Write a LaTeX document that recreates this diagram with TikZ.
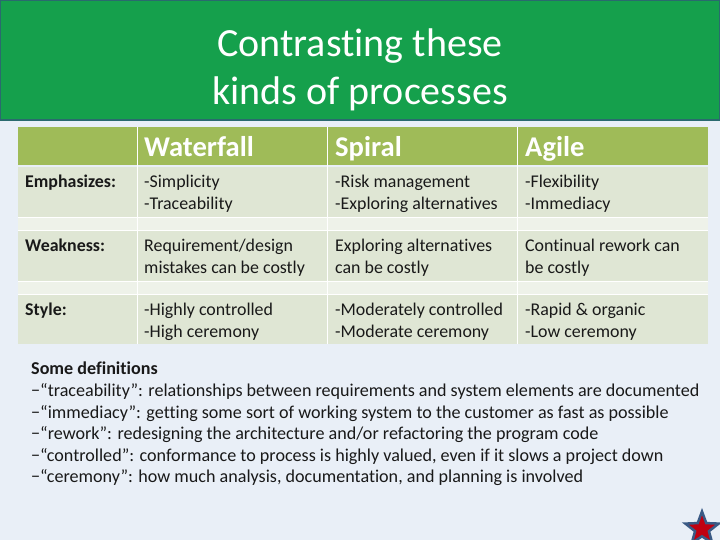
\documentclass[tikz,border=0pt]{standalone}
\usepackage{fontspec}
\setmainfont[RawFeature={-liga}]{Carlito}
\usetikzlibrary{shapes.geometric}
\definecolor{pagebg}{HTML}{E9EFF7}
\definecolor{titlegreen}{HTML}{15A04C}
\definecolor{titleedge}{HTML}{2A6A6E}
\definecolor{headgreen}{HTML}{9FBB58}
\definecolor{rowgreen}{HTML}{DFE6D4}
\definecolor{gapgreen}{HTML}{EEF2E9}
\definecolor{starblue}{HTML}{3A5A85}
\definecolor{starred}{HTML}{C00010}
\tikzset{
	titletext/.style={font=\fontsize{40}{48}\selectfont,text=white,align=center},
	headtext/.style={anchor=base west,font=\bfseries\fontsize{28.6}{32}\selectfont,text=white,inner sep=0pt},
	celltext/.style={anchor=north west,align=left,font=\fontsize{17.9}{21.5}\selectfont,text=black!90,inner sep=0pt},
	rowtext/.style={celltext,font=\bfseries\fontsize{17.9}{21.5}\selectfont},
	deftext/.style={anchor=north west,align=left,font=\fontsize{18.1}{21.6}\selectfont,text=black!90,inner sep=0pt},
}
\begin{document}
\begin{tikzpicture}[x=1pt,y=-1pt]
	\useasboundingbox (0,0) rectangle (720,540);
	\fill[pagebg] (0,0) rectangle (720,540);
	% title bar
	\draw[fill=titlegreen,draw=titleedge,line width=1.5pt] (0.7,0.7) rectangle (719.3,120);
	\node[titletext] (title) at (360,70) {Contrasting these\\kinds of processes};
	% table background
	\fill[headgreen] (18,127) rectangle (708,165);
	\fill[rowgreen] (18,167) rectangle (708,217);
	\fill[gapgreen] (18,217) rectangle (708,231);
	\fill[rowgreen] (18,231) rectangle (708,281);
	\fill[gapgreen] (18,281) rectangle (708,294);
	\fill[rowgreen] (18,294) rectangle (708,344);
	\foreach \colx in {137,327,517}
		\draw[white,line width=.8pt] (\colx,127) -- (\colx,344);
	\foreach \rowy in {217.5,230.5,281.5,294}
		\draw[white,line width=.5pt] (18,\rowy) -- (708,\rowy);
	% header
	\node[headtext] (waterfall) at (144,157) {Waterfall};
	\node[headtext] (spiral) at (335,157) {Spiral};
	\node[headtext] (agile) at (525,157) {Agile};
	% rows
	\node[rowtext] (emph) at (25,175) {Emphasizes:};
	\node[celltext] (emphw) at (144,175) {-Simplicity\\-Traceability};
	\node[celltext] (emphs) at (335,175) {-Risk management\\-Exploring alternatives};
	\node[celltext] (empha) at (525,175) {-Flexibility\\-Immediacy};
	\node[rowtext] (weak) at (25,239) {Weakness:};
	\node[celltext] (weakw) at (144,239) {Requirement/design\\mistakes can be costly};
	\node[celltext] (weaks) at (335,239) {Exploring alternatives\\can be costly};
	\node[celltext] (weaka) at (525,239) {Continual rework can\\be costly};
	\node[rowtext] (style) at (25,303) {Style:};
	\node[celltext] (stylew) at (144,303) {-Highly controlled\\-High ceremony};
	\node[celltext] (styles) at (335,303) {-Moderately controlled\\-Moderate ceremony};
	\node[celltext] (stylea) at (525,303) {-Rapid \& organic\\-Low ceremony};
	% definitions
	\node[deftext] (defs) at (31,362) {\textbf{Some definitions}\\
		−“traceability”: relationships between requirements and system elements are documented\\
		−“immediacy”: getting some sort of working system to the customer as fast as possible\\
		−“rework”: redesigning the architecture and/or refactoring the program code\\
		−“controlled”: conformance to process is highly valued, even if it slows a project down\\
		−“ceremony”: how much analysis, documentation, and planning is involved};
	% corner star
	\node[star,star points=5,star point ratio=2.4,minimum size=35pt,inner sep=0pt,draw=starblue,line width=2.5pt,fill=starred] (mark) at (702,529) {};
\end{tikzpicture}
\end{document}
